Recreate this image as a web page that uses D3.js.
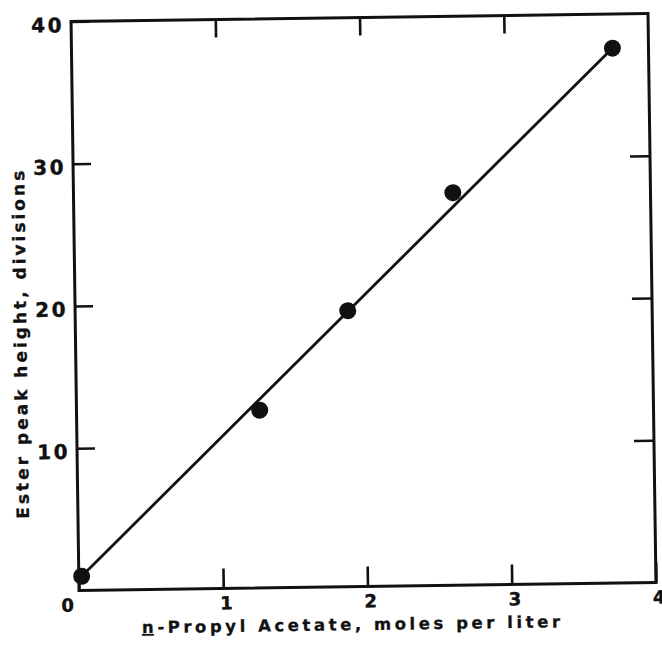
<!DOCTYPE html>
<html>
<head>
<meta charset="utf-8">
<script src="https://cdn.jsdelivr.net/npm/d3@7"></script>
<style>
  body { margin: 0; background: #fff; }
  text { font-family: "DejaVu Sans", sans-serif; font-weight: bold; fill: #111; }
</style>
</head>
<body>
<svg id="chart"></svg>
<script>
// values
const concentration = [0.02, 1.27, 1.89, 2.63, 3.75]   // moles per liter
const peakHeight = [1.0, 12.5, 19.4, 27.6, 37.6]        // divisions
const fitX = [0.02, 3.75]
const fitY = [1.0, 37.6]
const xTickLabels = [0, 1, 2, 3, 4]
const yTickLabels = [10, 20, 30, 40]
const innerX = [1, 2, 3]
const innerY = [10, 20, 30]

const width = 662, height = 645
const ink = '#111'

let dimensions = {
  left: 75, right: 652, top: 17.5, bottom: 586.5
}

let svg = d3.select('#chart')
  .attr('width', width)
  .attr('height', height)

svg.append('rect').attr('width', width).attr('height', height).attr('fill', '#fff')

// the scan is a little tilted, so the whole figure is turned a bit
let g = svg.append('g')
  .attr('transform', 'rotate(-0.8, 363.5, 302)')

let xScale = d3.scaleLinear()
  .domain([0, 4])
  .range([dimensions.left, dimensions.right])

let yScale = d3.scaleLinear()
  .domain([0, 40])
  .range([dimensions.bottom, dimensions.top])

// frame
g.append('rect')
  .attr('x', xScale(0))
  .attr('y', yScale(40))
  .attr('width', xScale(4) - xScale(0))
  .attr('height', yScale(0) - yScale(40))
  .attr('fill', 'none')
  .attr('stroke', ink)
  .attr('stroke-width', 3)

let styleAxis = sel => {
  sel.select('.domain').remove()
  sel.selectAll('line').attr('stroke', ink).attr('stroke-width', 2.6)
  sel.attr('font-family', null).attr('font-size', null)
}

// bottom axis with labels
let xAxis = g.append('g')
  .attr('transform', `translate(0,${dimensions.bottom})`)
  .call(d3.axisBottom(xScale).tickValues(xTickLabels).tickSize(-20).tickPadding(8).tickFormat(d3.format('d')))
  .call(styleAxis)
xAxis.selectAll('text')
  .style('font-size', '18px')
  .style('stroke', ink)
  .style('stroke-width', '0.45px')
  .attr('dx', d => d == 0 ? -12 : 2.5)
  .attr('dy', '0.72em')

// left axis with labels
let yAxis = g.append('g')
  .attr('transform', `translate(${dimensions.left},0)`)
  .call(d3.axisLeft(yScale).tickValues(yTickLabels).tickSize(-18).tickPadding(7).tickFormat(d3.format('d')))
  .call(styleAxis)
yAxis.selectAll('text')
  .style('font-size', '20px')
  .style('letter-spacing', '2.5px')
  .style('stroke', ink)
  .style('stroke-width', '0.4px')
  .attr('dy', '0.5em')

// inward ticks on top and right
g.append('g')
  .attr('transform', `translate(0,${dimensions.top})`)
  .call(d3.axisTop(xScale).tickValues(innerX).tickSize(-18).tickFormat(''))
  .call(styleAxis)

g.append('g')
  .attr('transform', `translate(${dimensions.right},0)`)
  .call(d3.axisRight(yScale).tickValues(innerY).tickSize(-20).tickFormat(''))
  .call(styleAxis)

// fitted line
let line = d3.line()
  .x(d => xScale(d[0]))
  .y(d => yScale(d[1]))

g.append('path')
  .datum(d3.zip(fitX, fitY))
  .attr('d', line)
  .attr('fill', 'none')
  .attr('stroke', ink)
  .attr('stroke-width', 2.8)

// measured points
g.selectAll('circle.pt')
  .data(d3.zip(concentration, peakHeight))
  .enter()
  .append('circle')
  .attr('class', 'pt')
  .attr('cx', d => xScale(d[0]))
  .attr('cy', d => yScale(d[1]))
  .attr('r', 8.5)
  .attr('fill', ink)

// axis titles
let xTitle = g.append('text')
  .attr('x', 137.5)
  .attr('y', 630)
  .attr('textLength', 418)
  .attr('lengthAdjust', 'spacing')
  .style('font-size', '16.5px')
  .style('stroke', ink)
  .style('stroke-width', '0.3px')
xTitle.append('tspan').style('text-decoration', 'underline').text('n')
xTitle.append('tspan').text('-Propyl Acetate, moles per liter')

g.append('text')
  .attr('transform', 'translate(26,340) rotate(-90)')
  .attr('text-anchor', 'middle')
  .attr('textLength', 348)
  .attr('lengthAdjust', 'spacing')
  .style('font-size', '17px')
  .style('stroke', ink)
  .style('stroke-width', '0.3px')
  .text('Ester peak height, divisions')
</script>
</body>
</html>
